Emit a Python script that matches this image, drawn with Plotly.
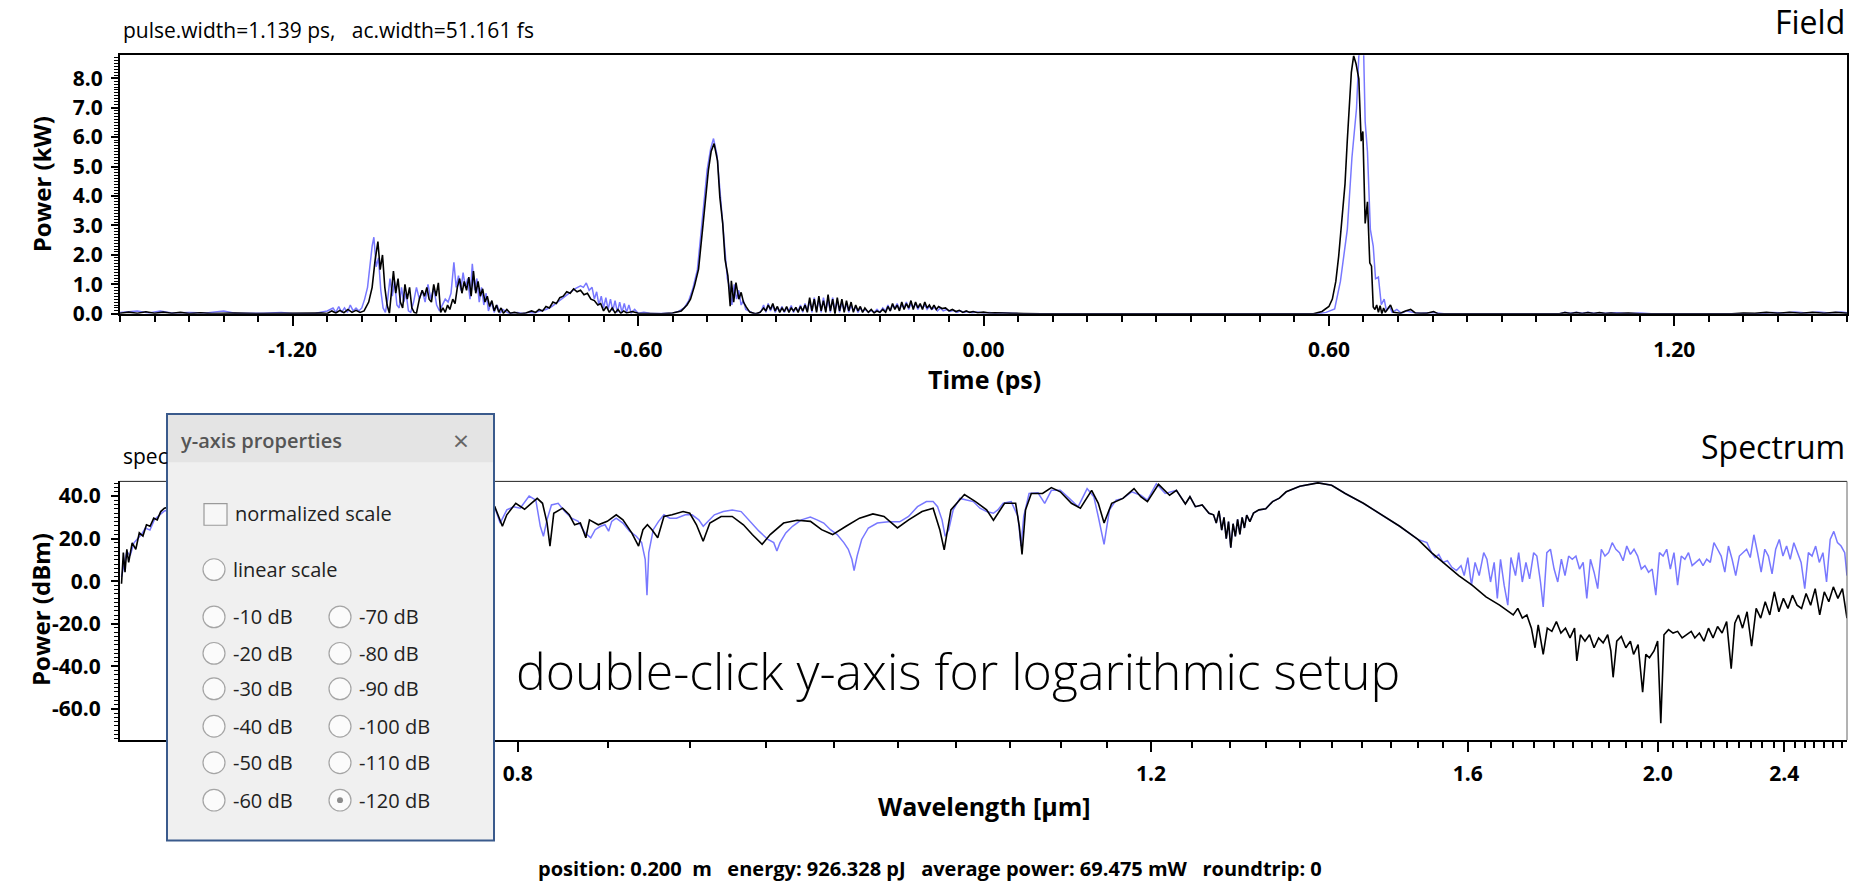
import numpy as np
import plotly.graph_objects as go

# ---------------- DATA ----------------
# Field (time domain): (time in ps, power in kW)
field_black = [
    (-1.500, 0.02), (-1.485, 0.06), (-1.470, 0.02), (-1.455, 0.07), (-1.440, 0.02), (-1.425, 0.06),
    (-1.410, 0.02), (-1.395, 0.05), (-1.380, 0.01), (-1.360, 0.04), (-1.340, 0.01), (-1.300, 0.03),
    (-1.260, 0.01), (-1.220, 0.02), (-1.180, 0.01), (-1.150, 0.03), (-1.140, 0.01), (-1.132, 0.10),
    (-1.125, 0.03), (-1.118, 0.12), (-1.111, 0.04), (-1.104, 0.15), (-1.097, 0.05), (-1.090, 0.12),
    (-1.083, 0.05), (-1.076, 0.10), (-1.068, 0.40), (-1.062, 0.90), (-1.057, 1.80), (-1.052, 2.45),
    (-1.048, 1.50), (-1.044, 2.00), (-1.040, 0.90), (-1.036, 0.30), (-1.032, 0.02), (-1.028, 0.80),
    (-1.025, 1.45), (-1.021, 0.70), (-1.017, 1.20), (-1.013, 0.40), (-1.009, 0.20), (-1.005, 1.00),
    (-1.001, 0.50), (-0.997, 0.90), (-0.993, 0.20), (-0.989, 0.05), (-0.985, 0.02), (-0.980, 0.50),
    (-0.975, 0.80), (-0.971, 0.60), (-0.967, 0.90), (-0.963, 0.50), (-0.959, 0.40), (-0.955, 1.00),
    (-0.951, 0.60), (-0.947, 1.05), (-0.943, 0.05), (-0.939, 0.20), (-0.935, 0.05), (-0.931, 0.30),
    (-0.927, 0.15), (-0.922, 0.50), (-0.918, 0.35), (-0.914, 0.90), (-0.910, 1.20), (-0.906, 0.70),
    (-0.902, 1.10), (-0.898, 0.80), (-0.894, 1.25), (-0.890, 0.60), (-0.886, 1.45), (-0.882, 0.70),
    (-0.878, 1.10), (-0.874, 0.60), (-0.870, 0.85), (-0.866, 0.40), (-0.862, 0.60), (-0.858, 0.25),
    (-0.854, 0.45), (-0.850, 0.10), (-0.846, 0.30), (-0.842, 0.05), (-0.838, 0.20), (-0.834, 0.02),
    (-0.828, 0.15), (-0.822, 0.02), (-0.815, 0.05), (-0.805, 0.00), (-0.795, 0.03), (-0.785, 0.10),
    (-0.778, 0.05), (-0.772, 0.15), (-0.766, 0.10), (-0.760, 0.25), (-0.754, 0.20), (-0.748, 0.40),
    (-0.742, 0.35), (-0.736, 0.55), (-0.730, 0.60), (-0.724, 0.75), (-0.718, 0.70), (-0.712, 0.85),
    (-0.706, 0.75), (-0.700, 0.80), (-0.694, 0.65), (-0.688, 0.70), (-0.682, 0.50), (-0.676, 0.45),
    (-0.670, 0.30), (-0.665, 0.35), (-0.660, 0.10), (-0.655, 0.25), (-0.650, 0.05), (-0.645, 0.20),
    (-0.640, 0.03), (-0.635, 0.15), (-0.630, 0.02), (-0.625, 0.10), (-0.620, 0.03), (-0.610, 0.08),
    (-0.600, 0.02), (-0.580, 0.01), (-0.560, 0.00), (-0.540, 0.03), (-0.525, 0.10), (-0.515, 0.30),
    (-0.509, 0.50), (-0.502, 0.95), (-0.495, 1.52), (-0.487, 3.07), (-0.478, 4.86), (-0.473, 5.52),
    (-0.468, 5.78), (-0.462, 5.19), (-0.458, 3.96), (-0.453, 3.07), (-0.449, 1.85), (-0.444, 1.29),
    (-0.440, 0.26), (-0.438, 1.12), (-0.434, 0.40), (-0.430, 1.06), (-0.425, 0.50), (-0.421, 0.73),
    (-0.417, 0.40), (-0.412, 0.23), (-0.406, 0.06), (-0.396, 0.00), (-0.388, 0.05),
    (-0.382, 0.20), (-0.378, 0.10), (-0.374, 0.30), (-0.370, 0.15), (-0.366, 0.35), (-0.362, 0.10),
    (-0.358, 0.25), (-0.354, 0.05), (-0.350, 0.20), (-0.346, 0.08), (-0.342, 0.25), (-0.338, 0.05),
    (-0.334, 0.20), (-0.330, 0.10), (-0.326, 0.22), (-0.322, 0.05), (-0.318, 0.25), (-0.314, 0.10),
    (-0.310, 0.30), (-0.306, 0.05), (-0.302, 0.55), (-0.298, 0.10), (-0.294, 0.50), (-0.290, 0.05),
    (-0.286, 0.60), (-0.282, 0.10), (-0.278, 0.45), (-0.274, 0.05), (-0.270, 0.65), (-0.266, 0.10),
    (-0.262, 0.50), (-0.258, 0.00), (-0.254, 0.55), (-0.250, 0.10), (-0.246, 0.50), (-0.242, 0.05),
    (-0.238, 0.45), (-0.234, 0.10), (-0.230, 0.40), (-0.226, 0.05), (-0.222, 0.30), (-0.218, 0.10),
    (-0.214, 0.25), (-0.210, 0.05), (-0.206, 0.20), (-0.200, 0.05), (-0.195, 0.15), (-0.190, 0.03),
    (-0.185, 0.10), (-0.180, 0.05), (-0.175, 0.15), (-0.170, 0.05), (-0.166, 0.25), (-0.162, 0.10),
    (-0.158, 0.35), (-0.154, 0.15), (-0.150, 0.30), (-0.146, 0.10), (-0.142, 0.40), (-0.138, 0.15),
    (-0.134, 0.35), (-0.130, 0.20), (-0.126, 0.45), (-0.122, 0.15), (-0.118, 0.40), (-0.114, 0.20),
    (-0.110, 0.35), (-0.106, 0.15), (-0.102, 0.40), (-0.098, 0.20), (-0.094, 0.30), (-0.090, 0.15),
    (-0.086, 0.30), (-0.082, 0.15), (-0.078, 0.25), (-0.072, 0.18), (-0.066, 0.20), (-0.060, 0.10),
    (-0.054, 0.15), (-0.048, 0.08), (-0.042, 0.12), (-0.036, 0.05), (-0.030, 0.10), (-0.024, 0.05),
    (-0.018, 0.08), (-0.010, 0.04), (0.000, 0.06), (0.010, 0.03), (0.020, 0.04), (0.035, 0.02),
    (0.050, 0.02), (0.070, 0.01), (0.100, 0.00), (0.400, 0.00), (0.573, 0.00), (0.588, 0.08),
    (0.600, 0.25), (0.606, 0.50), (0.612, 1.10), (0.617, 1.96), (0.623, 3.20), (0.628, 4.41),
    (0.632, 5.90), (0.636, 7.30), (0.639, 8.20), (0.643, 8.76), (0.647, 8.50), (0.652, 7.98),
    (0.654, 7.00), (0.656, 5.86), (0.659, 6.19), (0.661, 4.50), (0.663, 3.07), (0.667, 3.80),
    (0.671, 1.73), (0.674, 1.62), (0.677, 0.23), (0.680, 0.15), (0.683, 0.30), (0.686, 0.05),
    (0.689, 0.28), (0.692, 0.00), (0.695, 0.20), (0.698, 0.05), (0.707, 0.30), (0.712, 0.05),
    (0.724, 0.02), (0.733, 0.10), (0.742, 0.15), (0.750, 0.03), (0.770, 0.02), (0.782, 0.08),
    (0.790, 0.00), (1.000, 0.00), (1.010, 0.04), (1.020, 0.01), (1.030, 0.04), (1.040, 0.01),
    (1.050, 0.04), (1.060, 0.01), (1.070, 0.04), (1.080, 0.01), (1.090, 0.03), (1.100, 0.01),
    (1.120, 0.03), (1.140, 0.00), (1.300, 0.00), (1.320, 0.03), (1.340, 0.02), (1.360, 0.05),
    (1.380, 0.02), (1.400, 0.05), (1.420, 0.02), (1.440, 0.05), (1.460, 0.02), (1.480, 0.05),
    (1.500, 0.02),
]

field_blue = [
    (-1.500, 0.05), (-1.470, 0.10), (-1.450, 0.03), (-1.430, 0.10), (-1.410, 0.03), (-1.380, 0.05),
    (-1.350, 0.03), (-1.320, 0.10), (-1.300, 0.02), (-1.250, 0.02), (-1.220, 0.05), (-1.200, 0.01),
    (-1.160, 0.02), (-1.140, 0.10), (-1.130, 0.20), (-1.125, 0.05), (-1.120, 0.25), (-1.115, 0.05),
    (-1.110, 0.20), (-1.105, 0.05), (-1.100, 0.30), (-1.095, 0.10), (-1.090, 0.20), (-1.085, 0.10),
    (-1.080, 0.20), (-1.075, 0.50), (-1.070, 0.90), (-1.066, 1.70), (-1.062, 2.30), (-1.059, 2.60),
    (-1.055, 1.60), (-1.051, 1.90), (-1.047, 0.80), (-1.043, 0.20), (-1.039, 0.05), (-1.035, 0.50),
    (-1.031, 1.20), (-1.027, 0.60), (-1.023, 1.10), (-1.019, 0.30), (-1.015, 0.20), (-1.011, 0.90),
    (-1.007, 0.40), (-1.003, 0.70), (-0.999, 0.10), (-0.995, 0.05), (-0.990, 0.40), (-0.985, 0.90),
    (-0.980, 0.50), (-0.975, 0.80), (-0.970, 0.40), (-0.965, 1.00), (-0.960, 0.50), (-0.955, 0.90),
    (-0.950, 0.30), (-0.945, 0.10), (-0.940, 0.30), (-0.935, 0.50), (-0.930, 0.40), (-0.925, 0.70),
    (-0.920, 1.75), (-0.916, 0.90), (-0.912, 1.30), (-0.908, 0.80), (-0.904, 1.40), (-0.900, 0.90),
    (-0.896, 1.20), (-0.892, 0.50), (-0.888, 1.70), (-0.884, 0.80), (-0.880, 1.20), (-0.876, 0.40),
    (-0.872, 0.90), (-0.868, 0.30), (-0.864, 0.70), (-0.860, 0.10), (-0.855, 0.40), (-0.850, 0.05),
    (-0.845, 0.30), (-0.840, 0.02), (-0.835, 0.15), (-0.825, 0.02), (-0.810, 0.05), (-0.800, 0.01),
    (-0.790, 0.05), (-0.780, 0.03), (-0.770, 0.10), (-0.760, 0.15), (-0.750, 0.25), (-0.740, 0.40),
    (-0.730, 0.55), (-0.720, 0.70), (-0.710, 0.85), (-0.700, 0.95), (-0.695, 0.90), (-0.690, 1.05),
    (-0.685, 0.80), (-0.680, 0.90), (-0.676, 0.50), (-0.672, 0.75), (-0.668, 0.30), (-0.664, 0.60),
    (-0.660, 0.20), (-0.656, 0.55), (-0.652, 0.15), (-0.648, 0.50), (-0.644, 0.10), (-0.640, 0.45),
    (-0.636, 0.05), (-0.632, 0.40), (-0.628, 0.05), (-0.624, 0.35), (-0.620, 0.05), (-0.616, 0.30),
    (-0.612, 0.03), (-0.606, 0.15), (-0.600, 0.02), (-0.590, 0.05), (-0.580, 0.02), (-0.560, 0.01),
    (-0.540, 0.03), (-0.530, 0.08), (-0.520, 0.20), (-0.512, 0.45), (-0.505, 0.85), (-0.497, 1.50),
    (-0.489, 3.00), (-0.480, 4.90), (-0.474, 5.60), (-0.469, 5.95), (-0.463, 5.40), (-0.458, 4.20),
    (-0.453, 3.10), (-0.449, 2.00), (-0.445, 1.20), (-0.441, 0.90), (-0.437, 0.30), (-0.433, 1.00),
    (-0.429, 0.50), (-0.425, 0.80), (-0.421, 0.30), (-0.417, 0.45), (-0.413, 0.15), (-0.408, 0.10),
    (-0.400, 0.02), (-0.392, 0.00), (-0.386, 0.10), (-0.382, 0.30), (-0.378, 0.05), (-0.374, 0.35),
    (-0.370, 0.10), (-0.366, 0.30), (-0.362, 0.05), (-0.358, 0.20), (-0.354, 0.10), (-0.350, 0.25),
    (-0.346, 0.05), (-0.342, 0.20), (-0.338, 0.10), (-0.334, 0.28), (-0.330, 0.05), (-0.326, 0.20),
    (-0.322, 0.10), (-0.318, 0.30), (-0.314, 0.05), (-0.310, 0.35), (-0.306, 0.10), (-0.302, 0.45),
    (-0.298, 0.05), (-0.294, 0.55), (-0.290, 0.10), (-0.286, 0.50), (-0.282, 0.05), (-0.278, 0.55),
    (-0.274, 0.10), (-0.270, 0.50), (-0.266, 0.05), (-0.262, 0.55), (-0.258, 0.10), (-0.254, 0.45),
    (-0.250, 0.05), (-0.246, 0.40), (-0.242, 0.10), (-0.238, 0.35), (-0.234, 0.05), (-0.230, 0.30),
    (-0.226, 0.10), (-0.222, 0.25), (-0.218, 0.05), (-0.214, 0.20), (-0.210, 0.08), (-0.205, 0.15),
    (-0.200, 0.05), (-0.195, 0.12), (-0.190, 0.05), (-0.185, 0.15), (-0.180, 0.05), (-0.175, 0.20),
    (-0.170, 0.10), (-0.166, 0.30), (-0.162, 0.10), (-0.158, 0.30), (-0.154, 0.20), (-0.150, 0.35),
    (-0.146, 0.15), (-0.142, 0.30), (-0.138, 0.20), (-0.134, 0.40), (-0.130, 0.15), (-0.126, 0.35),
    (-0.122, 0.20), (-0.118, 0.35), (-0.114, 0.15), (-0.110, 0.30), (-0.106, 0.20), (-0.102, 0.30),
    (-0.098, 0.15), (-0.094, 0.25), (-0.090, 0.15), (-0.085, 0.22), (-0.080, 0.10), (-0.075, 0.20),
    (-0.070, 0.10), (-0.064, 0.15), (-0.058, 0.08), (-0.052, 0.12), (-0.046, 0.05), (-0.040, 0.10),
    (-0.034, 0.05), (-0.028, 0.08), (-0.020, 0.04), (-0.010, 0.06), (0.000, 0.03), (0.010, 0.05),
    (0.020, 0.02), (0.030, 0.04), (0.045, 0.02), (0.060, 0.01), (0.100, 0.00), (0.400, 0.00),
    (0.580, 0.00), (0.595, 0.05), (0.610, 0.17), (0.620, 1.10), (0.632, 2.87), (0.640, 5.30),
    (0.648, 6.98), (0.652, 8.76), (0.656, 9.00), (0.660, 9.20), (0.663, 6.52), (0.667, 5.50),
    (0.672, 2.87), (0.677, 2.30), (0.681, 1.19), (0.686, 1.25), (0.691, 0.31), (0.696, 0.50),
    (0.700, 0.10), (0.705, 0.25), (0.710, 0.05), (0.718, 0.15), (0.726, 0.02), (0.735, 0.10),
    (0.745, 0.05), (0.760, 0.02), (0.780, 0.05), (0.800, 0.00), (1.000, 0.00), (1.010, 0.05),
    (1.020, 0.02), (1.030, 0.05), (1.040, 0.02), (1.050, 0.05), (1.060, 0.02), (1.070, 0.04),
    (1.080, 0.02), (1.100, 0.04), (1.120, 0.01), (1.140, 0.03), (1.160, 0.00), (1.350, 0.00),
    (1.370, 0.05), (1.390, 0.03), (1.410, 0.06), (1.430, 0.03), (1.450, 0.06), (1.470, 0.03),
    (1.490, 0.06), (1.500, 0.04),
]

time_tick_vals = [-1.2, -0.6, 0.0, 0.6, 1.2]
time_tick_text = ["-1.20", "-0.60", "0.00", "0.60", "1.20"]
power_tick_vals = [0, 1, 2, 3, 4, 5, 6, 7, 8]
power_tick_text = ["0.0", "1.0", "2.0", "3.0", "4.0", "5.0", "6.0", "7.0", "8.0"]

# Spectrum: x = wavenumber 1/lambda (1/um), y = power (dBm)
spec_black_vis_wn = [1.5107, 1.5095, 1.5084, 1.5072, 1.5060, 1.5037, 1.5013, 1.4990, 1.4966, 1.4943,
                     1.4919, 1.4895, 1.4872, 1.4849, 1.4825, 1.4788, 1.4590, 1.4261, 1.3932, 1.3603,
                     1.3274, 1.2946, 1.2748, 1.2651, 1.2601, 1.2572, 1.2513, 1.2455, 1.2411, 1.2372,
                     1.2337, 1.2307, 1.2288, 1.2263, 1.2205, 1.2161, 1.2126, 1.2088, 1.2052, 1.2028,
                     1.1970, 1.1911, 1.1852, 1.1808, 1.1750, 1.1705, 1.1676, 1.1647, 1.1617, 1.1579,
                     1.1538, 1.1485, 1.1412, 1.1368, 1.1324, 1.1280, 1.1236, 1.1162, 1.1089, 1.1015,
                     1.0957, 1.0892, 1.0839, 1.0751, 1.0662, 1.0574, 1.0501, 1.0428, 1.0340, 1.0251,
                     1.0163, 1.0090, 1.0002, 0.9928, 0.9840, 0.9767, 0.9723, 0.9694, 0.9650, 0.9561,
                     0.9488, 0.9415, 0.9370, 0.9341, 0.9297, 0.9224, 0.9200, 0.9182, 0.9159, 0.9121,
                     0.9047, 0.8989, 0.8930, 0.8857, 0.8798, 0.8724, 0.8680, 0.8642, 0.8592, 0.8518,
                     0.8445, 0.8401, 0.8357, 0.8284, 0.8211, 0.8166]
spec_black_vis_db = [-1.2, 13.4, 4.2, 15.0, 8.8, 18.0, 15.0, 22.7, 21.2, 26.5,
                     25.8, 29.6, 28.8, 32.7, 34.3, 35.0, 38.0, 36.0, 39.0, 34.0,
                     37.0, 35.0, 38.0, 35.0, 25.8, 31.2, 36.6, 33.8, 36.6, 38.9,
                     36.6, 27.3, 16.5, 31.9, 34.3, 31.2, 26.5, 27.3, 20.4, 28.8,
                     26.5, 28.1, 31.2, 28.8, 22.7, 16.5, 24.2, 26.5, 24.2, 20.4,
                     30.4, 31.2, 32.7, 31.9, 26.5, 18.8, 27.3, 30.4, 30.4, 26.5,
                     21.9, 17.3, 21.9, 27.3, 28.6, 28.1, 24.2, 21.9, 25.8, 29.6,
                     31.6, 30.4, 25.0, 28.8, 32.7, 34.3, 24.2, 14.7, 33.5, 40.7,
                     37.4, 33.5, 28.6, 31.9, 36.6, 36.6, 25.8, 12.6, 33.5, 41.2,
                     41.2, 44.0, 42.0, 36.6, 34.3, 42.7, 36.6, 27.3, 36.6, 38.9,
                     43.5, 39.7, 37.4, 45.5, 40.4, 42.7]

spec_blue_vis_wn = [1.5107, 1.5090, 1.5072, 1.5050, 1.5025, 1.5000, 1.4975, 1.4950, 1.4920, 1.4890,
                    1.4860, 1.4825, 1.4590, 1.4000, 1.3300, 1.2800,
                    1.26453, 1.26159, 1.25719, 1.25278, 1.24838, 1.24250, 1.23810, 1.23516, 1.23310, 1.23075,
                    1.22782, 1.22341, 1.21901, 1.21460, 1.21020, 1.20579, 1.20197, 1.19904, 1.19551, 1.19257,
                    1.19022, 1.18817, 1.18523, 1.18083, 1.17642, 1.17201, 1.16849, 1.16614, 1.16497, 1.16379,
                    1.16085, 1.15733, 1.15381, 1.14999, 1.14558, 1.13971, 1.13530, 1.13090, 1.12796, 1.12502,
                    1.12062, 1.11474, 1.10887, 1.10300, 1.09712, 1.09125, 1.08537, 1.08156, 1.07950, 1.07744,
                    1.07363, 1.06922, 1.06335, 1.05747, 1.05307, 1.04866, 1.04426, 1.03985, 1.03544, 1.03251,
                    1.03016, 1.02869, 1.02663, 1.02370, 1.01929, 1.01342, 1.00607, 0.99873, 0.99286, 0.98698,
                    0.98111, 0.97670, 0.97377, 0.97083, 0.96877, 0.96642, 0.96349, 0.95908, 0.95468, 0.95027,
                    0.94587, 0.94146, 0.93705, 0.93412, 0.93059, 0.92531, 0.92090, 0.91885, 0.91708, 0.91356,
                    0.90768, 0.90328, 0.89887, 0.89300, 0.88713, 0.88125, 0.87538, 0.87097, 0.86804, 0.86422,
                    0.86069, 0.85629, 0.85188, 0.84601, 0.84013, 0.83573, 0.82985, 0.82398, 0.81664]
spec_blue_vis_db = [2.0, 8.0, 14.0, 12.0, 18.0, 20.0, 22.0, 25.0, 24.0, 29.0,
                    31.0, 33.0, 37.0, 38.0, 36.0, 37.0,
                    33.5, 27.3, 33.5, 35.0, 34.3, 40.0, 38.1, 25.8, 21.1, 28.8,
                    35.8, 36.6, 32.7, 29.6, 28.1, 22.7, 20.4, 24.2, 25.8, 26.5,
                    23.5, 28.1, 29.6, 27.3, 23.5, 21.1, 18.1, 10.3, -6.6, 13.4,
                    24.2, 28.1, 31.2, 29.6, 29.6, 31.2, 31.2, 28.8, 25.8, 28.1,
                    31.2, 32.7, 33.5, 32.7, 28.1, 23.5, 19.6, 18.1, 14.2, 18.1,
                    22.7, 25.8, 28.8, 30.1, 28.8, 27.3, 24.2, 21.9, 18.1, 15.0,
                    10.3, 5.0, 12.0, 19.6, 25.0, 27.3, 27.9, 27.9, 30.4, 35.0,
                    37.4, 37.4, 35.0, 28.8, 21.1, 24.2, 33.5, 38.9, 38.1, 37.4,
                    34.3, 32.7, 31.9, 33.5, 36.6, 37.4, 30.4, 16.5, 30.4, 41.2,
                    41.5, 36.6, 42.7, 42.7, 38.9, 35.0, 43.5, 39.7, 30.4, 17.3,
                    33.5, 38.1, 38.9, 42.0, 40.4, 38.1, 45.8, 41.2, 42.7]

# segment 1.2 - 1.52 um where both spectra coincide
spec_shared_wn = [0.81072, 0.80773, 0.80414, 0.79966, 0.79518, 0.79219, 0.79040, 0.78861, 0.78681, 0.78532,
                  0.78383, 0.78233, 0.78084, 0.77934, 0.77785, 0.77636, 0.77486, 0.77337, 0.77188, 0.77038,
                  0.76829, 0.76590, 0.76232, 0.75783, 0.75335, 0.74887, 0.74439, 0.73543, 0.72348, 0.71451,
                  0.70555, 0.69360, 0.68165, 0.66970, 0.65775]
spec_shared_db = [36.3, 39.7, 35.0, 35.8, 31.9, 31.2, 27.3, 33.0, 24.0, 30.0,
                  20.0, 28.0, 15.7, 27.0, 21.0, 29.0, 22.0, 30.0, 25.0, 31.0,
                  28.0, 32.0, 33.5, 34.0, 37.4, 39.0, 42.0, 44.6, 46.2, 45.1,
                  41.2, 36.6, 31.2, 25.8, 19.6]

spec_black_ir_wn = [0.65177, 0.64878, 0.63982, 0.63086, 0.62189, 0.61293, 0.60397, 0.59799,
                    0.59500, 0.59201, 0.58902, 0.58604, 0.58305, 0.58066, 0.57857, 0.57528, 0.57259, 0.56960,
                    0.56662, 0.56363, 0.56064, 0.55765, 0.55467, 0.55317, 0.55078, 0.54780, 0.54481, 0.54182,
                    0.53883, 0.53585, 0.53286, 0.53077, 0.52928, 0.52689, 0.52390, 0.52091, 0.51792, 0.51583,
                    0.51285, 0.50986, 0.50777, 0.50537, 0.50239, 0.50000, 0.49791, 0.49582, 0.49283, 0.48984,
                    0.48685, 0.48387, 0.48088, 0.47789, 0.47550, 0.47252, 0.46953, 0.46654, 0.46355, 0.46056,
                    0.45758, 0.45459, 0.45160, 0.44921, 0.44682, 0.44413, 0.44115, 0.43816, 0.43517, 0.43218,
                    0.42920, 0.42621, 0.42322, 0.42023, 0.41724, 0.41426, 0.41127, 0.40828, 0.40529, 0.40231,
                    0.39932, 0.39633, 0.39334, 0.39035, 0.38737, 0.38438, 0.38139, 0.37840, 0.37542]
spec_black_ir_db = [15.5, 13.4, 8.0, 2.6, -2.0, -7.4, -11.3, -14.4,
                    -15.9, -12.8, -17.4, -15.9, -22.1, -31.3, -20.5, -34.4, -22.1, -23.6,
                    -19.0, -24.4, -22.1, -26.7, -22.1, -37.5, -25.2, -28.2, -25.2, -31.3,
                    -26.7, -29.0, -25.2, -32.8, -45.2, -28.2, -26.0, -31.3, -28.2, -34.4,
                    -29.8, -52.2, -34.4, -36.0, -32.8, -28.2, -66.8, -25.2, -22.8, -24.4,
                    -23.6, -26.7, -25.2, -23.6, -26.7, -24.4, -28.2, -22.1, -26.7, -21.3,
                    -24.4, -19.0, -41.1, -19.8, -15.9, -22.1, -14.4, -30.6, -12.8, -17.4,
                    -9.7, -15.9, -5.0, -14.4, -8.1, -12.8, -6.6, -11.3, -12.8, -5.8,
                    -11.3, -3.5, -15.9, -5.0, -9.7, -2.7, -8.1, -3.5, -17.4]

spec_blue_ir_wn = [0.65177, 0.64878, 0.64639, 0.64400, 0.64131, 0.63833, 0.63534, 0.63235, 0.62936, 0.62727,
                   0.62488, 0.62249, 0.62010, 0.61741, 0.61442, 0.61233, 0.60994, 0.60755, 0.60546, 0.60337,
                   0.60098, 0.59859, 0.59650, 0.59351, 0.59142, 0.58903, 0.58664, 0.58425, 0.58156, 0.57947,
                   0.57708, 0.57529, 0.57290, 0.57051, 0.56811, 0.56572, 0.56333, 0.56094, 0.55855, 0.55616,
                   0.55377, 0.55138, 0.54899, 0.54660, 0.54421, 0.54182, 0.53943, 0.53704, 0.53465, 0.53226,
                   0.52987, 0.52748, 0.52509, 0.52270, 0.52031, 0.51792, 0.51553, 0.51314, 0.51075, 0.50836,
                   0.50597, 0.50358, 0.50119, 0.49880, 0.49641, 0.49402, 0.49163, 0.48924, 0.48685, 0.48446,
                   0.48207, 0.47968, 0.47729, 0.47490, 0.47251, 0.47012, 0.46773, 0.46534, 0.46295, 0.46056,
                   0.45817, 0.45578, 0.45339, 0.45100, 0.44861, 0.44622, 0.44383, 0.44144, 0.43905, 0.43666,
                   0.43427, 0.43188, 0.42949, 0.42710, 0.42471, 0.42232, 0.41993, 0.41754, 0.41515, 0.41276,
                   0.41037, 0.40798, 0.40559, 0.40320, 0.40080, 0.39841, 0.39602, 0.39363, 0.39124, 0.38885,
                   0.38646, 0.38407, 0.38168, 0.37929, 0.37690, 0.37541]
spec_blue_ir_db = [18.1, 13.4, 11.1, 12.6, 8.8, 9.6, 6.5, 5.0, 7.3, 2.6,
                   11.1, -1.9, 8.8, 2.6, 13.4, 10.3, -0.4, 8.8, -8.1, 10.3,
                   -1.9, -11.3, 11.1, 2.6, 13.4, -0.4, 8.8, 1.1, 13.4, 11.8,
                   -0.4, -12.1, 13.4, 15.0, 5.7, -0.4, 10.3, 2.6, 11.8, 10.3,
                   11.8, 5.7, 8.8, -8.1, 10.3, 4.2, -3.5, 15.0, 11.8, 13.4,
                   18.1, 15.0, 13.4, 9.6, 16.5, 12.6, 15.0, 11.8, 5.7, 7.3,
                   4.2, 5.7, -6.6, 13.4, 11.8, 15.0, 5.7, 13.4, -1.9, 11.8,
                   10.3, 13.4, 7.3, 8.8, 10.3, 7.3, 10.3, 8.8, 18.1, 15.0,
                   11.8, 4.2, 16.5, 10.3, 2.6, 11.8, 13.4, 15.0, 11.1, 21.8,
                   13.4, 4.2, 15.0, 11.8, 3.4, 15.0, 19.6, 11.8, 16.5, 10.3,
                   18.1, 13.4, 8.8, -3.5, 13.4, 11.8, 16.5, 8.8, 13.4, -0.4,
                   19.6, 23.4, 18.1, 16.5, 13.4, 2.6]

wl_major = [0.8, 1.2, 1.6, 2.0, 2.4]
wl_major_text = ["0.8", "1.2", "1.6", "2.0", "2.4"]
dbm_tick_vals = [-60, -40, -20, 0, 20, 40]
dbm_tick_text = ["-60.0", "-40.0", "-20.0", "0.0", "20.0", "40.0"]

header_text = "pulse.width=1.139 ps,\u00a0\u00a0 ac.width=51.161 fs"
status_text = ("position: 0.200\u00a0\u00a0m\u00a0\u00a0\u00a0energy: 926.328 pJ\u00a0\u00a0\u00a0"
               "average power: 69.475 mW\u00a0\u00a0\u00a0roundtrip: 0")
dialog_left_labels = ["-10 dB", "-20 dB", "-30 dB", "-40 dB", "-50 dB", "-60 dB"]
dialog_right_labels = ["-70 dB", "-80 dB", "-90 dB", "-100 dB", "-110 dB", "-120 dB"]

# ---------------- FIGURE ----------------
W, H = 1862, 892
BLUE = "#7878ff"
FONT = "Open Sans"


def X(px):
    return px / W


def Y(py):
    return 1 - py / H


tb, pb = zip(*field_black)
tu, pu = zip(*field_blue)
spec_black_x = spec_black_vis_wn + spec_shared_wn + spec_black_ir_wn
spec_black_y = spec_black_vis_db + spec_shared_db + spec_black_ir_db
spec_blue_x = spec_blue_vis_wn + spec_shared_wn + spec_blue_ir_wn
spec_blue_y = spec_blue_vis_db + spec_shared_db + spec_blue_ir_db

fig = go.Figure()
fig.add_trace(go.Scatter(x=tu, y=pu, mode="lines", line=dict(color=BLUE, width=1.5),
                         xaxis="x", yaxis="y", hoverinfo="skip"))
fig.add_trace(go.Scatter(x=tb, y=pb, mode="lines", line=dict(color="black", width=1.6),
                         xaxis="x", yaxis="y", hoverinfo="skip"))
fig.add_trace(go.Scatter(x=spec_blue_x, y=spec_blue_y, mode="lines", line=dict(color=BLUE, width=1.5),
                         xaxis="x2", yaxis="y2", hoverinfo="skip"))
fig.add_trace(go.Scatter(x=spec_black_x, y=spec_black_y, mode="lines", line=dict(color="black", width=1.6),
                         xaxis="x2", yaxis="y2", hoverinfo="skip"))

xdom = [X(120), X(1847)]
tickfont = dict(family=FONT, size=21, color="black", weight="bold")
minor_wl = [w for w in np.round(np.arange(0.68, 2.665, 0.04), 2) if round(w, 2) not in wl_major]

fig.update_layout(
    width=W, height=H, margin=dict(l=0, r=0, t=0, b=0),
    paper_bgcolor="white", plot_bgcolor="white", showlegend=False,
    font=dict(family=FONT, color="black"),
    xaxis=dict(domain=xdom, anchor="y", range=[-1.5, 1.5], tickmode="array",
               tickvals=time_tick_vals, ticktext=time_tick_text, ticks="outside", ticklen=10,
               tickwidth=2, tickcolor="black", showline=True, linecolor="black", linewidth=2,
               mirror=True, showgrid=False, zeroline=False, tickfont=tickfont, ticklabelstandoff=6,
               minor=dict(tickmode="linear", tick0=0, dtick=0.06, ticks="outside", ticklen=6,
                          tickwidth=1.5, tickcolor="black", showgrid=False)),
    yaxis=dict(domain=[Y(318.5), Y(56)], anchor="x", range=[0, 8.78], tickmode="array",
               tickvals=power_tick_vals, ticktext=power_tick_text, ticks="outside", ticklen=7,
               tickwidth=2, tickcolor="black", showline=True, linecolor="black", linewidth=2,
               mirror=True, showgrid=False, zeroline=False, tickfont=tickfont, ticklabelstandoff=4,
               minor=dict(tickmode="linear", tick0=0, dtick=0.1, ticks="outside", ticklen=4,
                          tickwidth=1, tickcolor="black", showgrid=False)),
    xaxis2=dict(domain=xdom, anchor="y2", range=[1.5117, 0.3754], tickmode="array",
                tickvals=[1 / w for w in wl_major], ticktext=wl_major_text, ticks="outside", ticklen=10,
                tickwidth=2, tickcolor="black", showline=True, linecolor="black", linewidth=2,
                mirror=False, showgrid=False, zeroline=False, tickfont=tickfont, ticklabelstandoff=4,
                minor=dict(tickmode="array", tickvals=[1 / w for w in minor_wl], ticks="outside",
                           ticklen=6, tickwidth=1.5, tickcolor="black", showgrid=False)),
    yaxis2=dict(domain=[Y(751), Y(488.5)], anchor="x2", range=[-74.7, 46.9], tickmode="array",
                tickvals=dbm_tick_vals, ticktext=dbm_tick_text, ticks="outside", ticklen=7,
                tickwidth=2, tickcolor="black", showline=True, linecolor="black", linewidth=2,
                mirror=False, showgrid=False, zeroline=False, tickfont=tickfont, ticklabelstandoff=6,
                minor=dict(tickmode="linear", tick0=0, dtick=2, ticks="outside", ticklen=4,
                           tickwidth=1, tickcolor="black", showgrid=False)),
)

ann = []


def text(x, y, s, size, xanchor="left", weight="normal", color="black", angle=0, family=FONT):
    ann.append(dict(x=X(x), y=Y(y), xref="paper", yref="paper", text=s, showarrow=False,
                    xanchor=xanchor, yanchor="middle", textangle=angle,
                    font=dict(family=family, size=size, color=color, weight=weight)))


text(121, 30, header_text, 21)
text(1847, 22, "Field", 32, xanchor="right")
text(41, 187, "Power (kW)", 24, xanchor="center", weight="bold", angle=-90)
text(984, 385, "Time (ps)", 25, xanchor="center", weight="bold")
text(121, 463, "spec", 21)
text(1847, 453, "Spectrum", 32, xanchor="right")
text(41, 619, "Power (dBm)", 24, xanchor="center", weight="bold", angle=-90)
text(984, 818, "Wavelength [µm]", 25, xanchor="center", weight="bold")
text(958, 681, "double-click y-axis for logarithmic setup", 50, xanchor="center", weight=300)
text(930, 881, status_text, 20, xanchor="center", weight="bold")

shapes = []
# thin top/right border of spectrum panel
shapes.append(dict(type="line", xref="paper", yref="paper", x0=X(120), x1=X(1847), y0=Y(488.5), y1=Y(488.5),
                   line=dict(color="#222", width=1), layer="above"))
shapes.append(dict(type="line", xref="paper", yref="paper", x0=X(1847), x1=X(1847), y0=Y(488.5), y1=Y(751),
                   line=dict(color="#666", width=1), layer="above"))

# dialog window
DL, DR, DT, DB = 167, 494, 420, 853
shapes.append(dict(type="rect", xref="paper", yref="paper", x0=X(DL), x1=X(DR), y0=Y(DB), y1=Y(DT),
                   fillcolor="#f0f0f0", line=dict(width=0), layer="above"))
shapes.append(dict(type="rect", xref="paper", yref="paper", x0=X(DL), x1=X(DR), y0=Y(469), y1=Y(DT),
                   fillcolor="#e4e4e4", line=dict(width=0), layer="above"))
shapes.append(dict(type="rect", xref="paper", yref="paper", x0=X(DL), x1=X(DR), y0=Y(DB), y1=Y(DT),
                   fillcolor="rgba(0,0,0,0)", line=dict(color="#3a5a8c", width=2), layer="above"))
# checkbox
shapes.append(dict(type="rect", xref="paper", yref="paper", x0=X(204), x1=X(227), y0=Y(533), y1=Y(511),
                   fillcolor="#f7f7f7", line=dict(color="#9a9a9a", width=1.2), layer="above"))


def radio(cx, cy, r=11, selected=False):
    shapes.append(dict(type="circle", xref="paper", yref="paper", x0=X(cx - r), x1=X(cx + r),
                       y0=Y(cy + r), y1=Y(cy - r), fillcolor="#fbfbfb",
                       line=dict(color="#a5a5a5", width=1.2), layer="above"))
    if selected:
        shapes.append(dict(type="circle", xref="paper", yref="paper", x0=X(cx - 3), x1=X(cx + 3),
                           y0=Y(cy + 3), y1=Y(cy - 3), fillcolor="#8c8c8c",
                           line=dict(width=0), layer="above"))


text(179, 447, "y-axis properties", 20, color="#555555", weight=600)
text(461, 446, "×", 28, xanchor="center", color="#666666")
text(233, 521, "normalized scale", 20, color="#222222")
radio(214, 578)
text(231, 578, "linear scale", 20, color="#222222")
rows = [626, 663, 699, 737, 774, 812]
for i, cy in enumerate(rows):
    radio(214, cy)
    text(231, cy, dialog_left_labels[i], 20, color="#222222")
    radio(340, cy, selected=(i == len(rows) - 1))
    text(357, cy, dialog_right_labels[i], 20, color="#222222")

fig.update_layout(annotations=ann, shapes=shapes)
fig.write_html("out.html", include_plotlyjs=True, config={"displayModeBar": False})

# remove the default page margin so the figure starts at the window's corner
with open("out.html", "r", encoding="utf-8") as f:
    html = f.read()
html = html.replace("<head>", "<head><style>html,body{margin:0;padding:0;overflow:hidden;}</style>", 1)
with open("out.html", "w", encoding="utf-8") as f:
    f.write(html)
